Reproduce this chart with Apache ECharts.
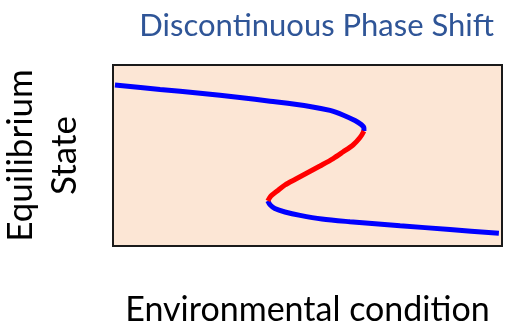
<!DOCTYPE html>
<html>
<head>
<meta charset="utf-8">
<script src="https://cdn.jsdelivr.net/npm/echarts@6/dist/echarts.min.js"></script>
<style>
  html, body { margin: 0; padding: 0; background: #fff; }
  #chart { width: 508px; height: 329px; }
</style>
</head>
<body>
<div id="chart"></div>
<script>
// upper stable branch (blue)
var upperX = [0.5, 12.1, 22.4, 32.6, 40.4, 50.6, 55.8, 59.1, 62.2, 63.8, 64.5, 64.5];
var upperY = [89.0, 86.5, 84.4, 82.0, 80.0, 77.1, 74.9, 72.4, 69.3, 67.1, 65.2, 63.5];
// unstable middle branch (red)
var middleX = [64.5, 63.5, 61.7, 59.1, 56.6, 53.2, 50.1, 47.0, 44.2, 42.2, 40.6, 39.8];
var middleY = [63.5, 59.9, 55.8, 51.9, 48.3, 44.2, 40.6, 37.0, 33.7, 30.4, 27.6, 24.9];
// lower stable branch (blue)
var lowerX = [39.8, 40.4, 41.6, 44.2, 48.1, 53.7, 60.9, 67.4, 73.8, 86.6, 99.2];
var lowerY = [24.9, 22.7, 20.7, 18.8, 16.9, 14.9, 13.4, 12.3, 11.2, 9.1, 7.0];

var titleText = 'Discontinuous Phase Shift';
var xName = 'Environmental condition';
var yName = 'Equilibrium\nState';

function pairs(xs, ys) {
    var out = [];
    for (var i = 0; i < xs.length; i++) out.push([xs[i], ys[i]]);
    return out;
}

var myChart = echarts.init(document.getElementById('chart'));
var font = 'Lato';
var option = {
    animation: false,
    title: {
        text: titleText,
        right: 9,
        top: 5,
        textStyle: { color: '#2F5597', fontSize: 31, fontWeight: 'normal', fontFamily: font }
    },
    grid: {
        left: 113, right: 6, top: 65, bottom: 83,
        outerBoundsMode: 'none',
        containLabel: false,
        show: true,
        backgroundColor: '#FCE6D5',
        borderColor: '#1a1a1a',
        borderWidth: 2
    },
    xAxis: {
        type: 'value', min: 0, max: 100,
        name: xName, nameLocation: 'middle', nameGap: 47,
        nameTextStyle: { color: '#000', fontSize: 34, fontFamily: font },
        axisLine: { show: false }, axisTick: { show: false },
        axisLabel: { show: false }, splitLine: { show: false }
    },
    yAxis: {
        type: 'value', min: 0, max: 100,
        name: yName, nameLocation: 'middle', nameGap: 26, nameRotate: 90,
        nameTextStyle: { color: '#000', fontSize: 35, fontFamily: font, lineHeight: 44, align: 'center' },
        axisLine: { show: false }, axisTick: { show: false },
        axisLabel: { show: false }, splitLine: { show: false }
    },
    series: [
        { type: 'line', data: pairs(upperX, upperY), smooth: 0.3, showSymbol: false,
          lineStyle: { color: '#0000FF', width: 5 } },
        { type: 'line', data: pairs(lowerX, lowerY), smooth: 0.3, showSymbol: false,
          lineStyle: { color: '#0000FF', width: 5 } },
        { type: 'line', data: pairs(middleX, middleY), smooth: 0.3, showSymbol: false,
          lineStyle: { color: '#FF0000', width: 5 } }
    ]
};
myChart.setOption(option);
</script>
</body>
</html>
